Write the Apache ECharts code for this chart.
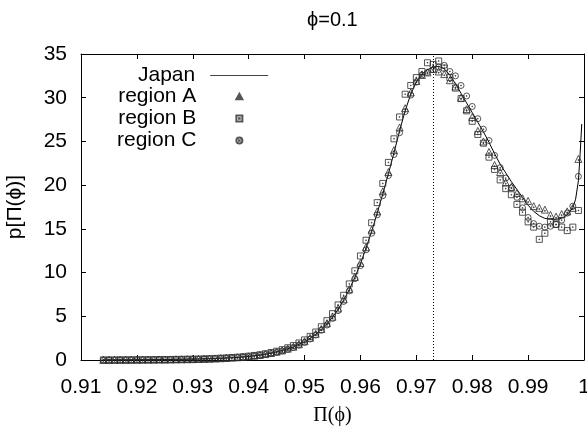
<!DOCTYPE html>
<html lang="en" style="height: 100%">

<head>
  <meta charset="utf-8">
</head>

<body style="height: 100%; margin: 0; background: #fff">
  <div id="container" style="width: 587px; height: 429px"></div>
  <script type="text/javascript" src="https://fastly.jsdelivr.net/npm/echarts@6/dist/echarts.min.js"></script>

  <script type="text/javascript">
    var dom = document.getElementById('container');
    var myChart = echarts.init(dom, null, { renderer: 'canvas' });

    // Japan curve
    const japanX = [
      0.914, 0.918, 0.922, 0.926, 0.930, 0.932, 0.934, 0.936, 0.938, 0.940,
      0.942, 0.944, 0.946, 0.948, 0.950, 0.951, 0.952, 0.953, 0.954, 0.955,
      0.956, 0.957, 0.958, 0.959, 0.960, 0.961, 0.962, 0.963, 0.964, 0.965,
      0.966, 0.967, 0.968, 0.969, 0.970, 0.971, 0.972, 0.973, 0.974, 0.975,
      0.976, 0.977, 0.978, 0.979, 0.980, 0.981, 0.982, 0.983, 0.984, 0.985,
      0.986, 0.987, 0.988, 0.989, 0.990, 0.991, 0.992, 0.993, 0.994, 0.995,
      0.996, 0.997, 0.998, 0.9985, 0.999, 0.9993, 0.9996
    ];
    const japanY = [
      0.01, 0.02, 0.04, 0.06, 0.10, 0.13, 0.17, 0.23, 0.30, 0.41,
      0.56, 0.78, 1.08, 1.50, 2.10, 2.50, 2.95, 3.50, 4.15, 4.90,
      5.80, 6.85, 8.05, 9.45, 11.0, 12.8, 14.7, 16.8, 19.0, 21.3,
      23.7, 26.2, 28.5, 30.4, 31.8, 32.7, 33.2, 33.5, 33.6, 33.3,
      32.6, 31.6, 30.5, 29.4, 28.3, 27.2, 26.1, 24.9, 23.6, 22.4,
      21.4, 20.4, 19.5, 18.6, 17.7, 17.0, 16.5, 16.2, 16.1, 16.1,
      16.2, 16.6, 17.4, 18.4, 20.5, 23.5, 27.0
    ];

    // x positions of the regional points
    const regionX = [
      0.914, 0.915, 0.916, 0.917, 0.918, 0.919, 0.920, 0.921, 0.922, 0.923,
      0.924, 0.925, 0.926, 0.927, 0.928, 0.929, 0.930, 0.931, 0.932, 0.933,
      0.934, 0.935, 0.936, 0.937, 0.938, 0.939, 0.940, 0.941, 0.942, 0.943,
      0.944, 0.945, 0.946, 0.947, 0.948, 0.949, 0.950, 0.951, 0.952, 0.953,
      0.954, 0.955, 0.956, 0.957, 0.958, 0.959, 0.960, 0.961, 0.962, 0.963,
      0.964, 0.965, 0.966, 0.967, 0.968, 0.969, 0.970, 0.971, 0.972, 0.973,
      0.974, 0.975, 0.976, 0.977, 0.978, 0.979, 0.980, 0.981, 0.982, 0.983,
      0.984, 0.985, 0.986, 0.987, 0.988, 0.989, 0.990, 0.991, 0.992, 0.993,
      0.994, 0.995, 0.996, 0.997, 0.998, 0.999
    ];
    const regionA = [
      0.01, 0.01, 0.02, 0.02, 0.02, 0.03, 0.03, 0.04, 0.04, 0.04,
      0.05, 0.05, 0.06, 0.07, 0.08, 0.09, 0.10, 0.12, 0.13, 0.15,
      0.17, 0.20, 0.23, 0.27, 0.31, 0.35, 0.42, 0.49, 0.57, 0.68,
      0.80, 0.95, 1.10, 1.30, 1.52, 1.80, 2.15, 2.55, 3.00, 3.55,
      4.20, 4.95, 5.90, 6.95, 8.10, 9.50, 11.1, 12.9, 14.9, 17.0,
      19.3, 21.5, 24.0, 26.6, 28.8, 30.6, 31.9, 32.6, 32.9, 33.3,
      33.0, 32.7, 32.0, 31.3, 30.0, 28.7, 27.8, 26.2, 25.0, 23.8,
      22.3, 21.5, 20.3, 19.8, 19.1, 18.5, 18.2, 17.6, 17.4, 17.2,
      16.6, 16.4, 16.7, 17.0, 17.4, 23.0
    ];
    const regionB = [
      0.01, 0.01, 0.01, 0.02, 0.02, 0.02, 0.03, 0.03, 0.04, 0.04,
      0.05, 0.05, 0.06, 0.07, 0.08, 0.09, 0.10, 0.11, 0.13, 0.15,
      0.18, 0.21, 0.24, 0.28, 0.32, 0.37, 0.44, 0.52, 0.60, 0.72,
      0.85, 1.00, 1.18, 1.40, 1.65, 1.95, 2.30, 2.70, 3.20, 3.80,
      4.50, 5.30, 6.30, 7.40, 8.70, 10.2, 11.9, 13.7, 15.7, 18.0,
      20.2, 22.6, 25.3, 27.8, 30.4, 31.4, 32.3, 33.0, 34.0, 33.8,
      34.2, 33.4, 32.3, 31.1, 29.9, 28.5, 27.3, 25.8, 24.8, 23.2,
      21.8, 20.6, 19.6, 18.9, 17.8, 16.9, 15.8, 15.2, 13.8, 14.5,
      15.8, 15.5, 15.2, 14.8, 15.2, 17.1
    ];
    const regionC = [
      0.01, 0.01, 0.01, 0.02, 0.02, 0.02, 0.03, 0.03, 0.03, 0.04,
      0.04, 0.05, 0.05, 0.06, 0.07, 0.08, 0.09, 0.10, 0.12, 0.14,
      0.16, 0.19, 0.22, 0.25, 0.29, 0.33, 0.39, 0.46, 0.54, 0.64,
      0.75, 0.88, 1.03, 1.22, 1.44, 1.70, 2.00, 2.40, 2.85, 3.40,
      4.00, 4.75, 5.65, 6.70, 7.90, 9.30, 10.8, 12.6, 14.5, 16.6,
      18.8, 21.1, 23.5, 26.0, 28.4, 30.3, 31.8, 32.6, 32.9, 33.2,
      33.5, 33.7, 33.0, 32.5, 31.4, 30.2, 29.0, 27.6, 26.4, 25.1,
      23.4, 22.0, 20.8, 19.7, 18.6, 17.4, 16.3, 15.6, 15.3, 15.2,
      15.3, 15.5, 16.0, 16.8, 17.6, 21.0
    ];
    // dotted marker at the peak position
    const peakX = 0.973;
    const yMin = 0;
    const yMax = 35;

    function pairs(xs, ys) {
      return xs.map(function (x, i) { return [x, ys[i]]; });
    }

    const font = 'Liberation Sans';
    const ink = '#000';
    const markColor = '#2a2a2a';

    // gnuplot-like point types: outline with a dot in the middle
    const triPath = 'path://M5,0L10,9H0Z M4.4,5.4H5.6V6.6H4.4Z';
    const boxPath = 'path://M0,0H10V10H0Z M4.4,4.4H5.6V5.6H4.4Z';
    const circPath = 'path://M10,5A5,5,0,1,1,0,5A5,5,0,1,1,10,5Z M4.4,4.4H5.6V5.6H4.4Z';

    function frameAxis(extra) {
      return Object.assign({
        type: 'value',
        axisLine: { show: true, onZero: false, lineStyle: { color: ink, width: 1 } },
        axisTick: { show: true, inside: true, length: 5, lineStyle: { color: ink } },
        splitLine: { show: false }
      }, extra);
    }

    function markerSeries(name, symbol, size, data) {
      return {
        name: name,
        type: 'scatter',
        symbol: symbol,
        symbolSize: size,
        data: data,
        itemStyle: { color: 'rgba(255,255,255,0)', borderColor: markColor, borderWidth: 1 },
        z: 3
      };
    }

    const legendText = { fontFamily: font, fontSize: 21, color: ink };

    var option = {
      animation: false,
      textStyle: { fontFamily: font },
      title: {
        text: 'ϕ=0.1',
        left: 302,
        top: 5,
        textStyle: { fontFamily: font, fontSize: 20, fontWeight: 'normal', color: ink }
      },
      grid: { left: 81, right: 3, top: 54, bottom: 69, outerBoundsMode: 'none' },
      legend: [
        {
          orient: 'vertical',
          left: 133,
          top: 60,
          align: 'right',
          itemWidth: 58,
          itemHeight: 1,
          selectedMode: false,
          textStyle: Object.assign({ padding: [0, 10, 0, 0] }, legendText),
          data: [{ name: 'Japan', icon: 'rect', itemStyle: { color: '#444' } }]
        },
        {
          orient: 'vertical',
          left: 112,
          top: 81,
          align: 'right',
          itemWidth: 6,
          itemHeight: 6,
          itemGap: 1,
          selectedMode: false,
          textStyle: Object.assign({ padding: [0, 35, 0, 0] }, legendText),
          data: ['region A', 'region B', 'region C']
        }
      ],
      xAxis: [
        frameAxis({
          min: 0.91, max: 1, interval: 0.01,
          position: 'bottom',
          name: 'Π(ϕ)',
          nameLocation: 'middle',
          nameGap: 46,
          nameTextStyle: { fontFamily: 'Liberation Serif', fontSize: 20, color: ink },
          axisLabel: {
            fontFamily: font, fontSize: 21, color: ink, margin: 17,
            formatter: function (v) {
              return Math.abs(v - 1) < 1e-9 ? '1' : v.toFixed(2);
            }
          }
        }),
        frameAxis({
          min: 0.91, max: 1, interval: 0.01,
          position: 'top',
          axisLabel: { show: false }
        })
      ],
      yAxis: [
        frameAxis({
          min: yMin, max: yMax, interval: 5,
          position: 'left',
          name: 'p[Π(ϕ)]',
          nameLocation: 'middle',
          nameGap: 55,
          nameRotate: 90,
          nameTextStyle: { fontFamily: font, fontSize: 21, color: ink },
          axisLabel: { fontFamily: font, fontSize: 21, color: ink, margin: 14 }
        }),
        frameAxis({
          min: yMin, max: yMax, interval: 5,
          position: 'right',
          axisLabel: { show: false }
        })
      ],
      series: [
        {
          name: 'Japan',
          type: 'line',
          symbol: 'none',
          data: pairs(japanX, japanY),
          lineStyle: { color: ink, width: 1 },
          itemStyle: { color: ink },
          z: 2,
          markLine: {
            silent: true,
            symbol: 'none',
            precision: 4,
            label: { show: false },
            lineStyle: { color: ink, width: 1, type: [1, 2] },
            data: [[{ coord: [peakX, yMin] }, { coord: [peakX, yMax] }]]
          }
        },
        markerSeries('region A', triPath, 7, pairs(regionX, regionA)),
        markerSeries('region B', boxPath, 6, pairs(regionX, regionB)),
        markerSeries('region C', circPath, 6, pairs(regionX, regionC))
      ]
    };

    myChart.setOption(option);
    window.addEventListener('resize', myChart.resize);
  </script>
</body>

</html>
